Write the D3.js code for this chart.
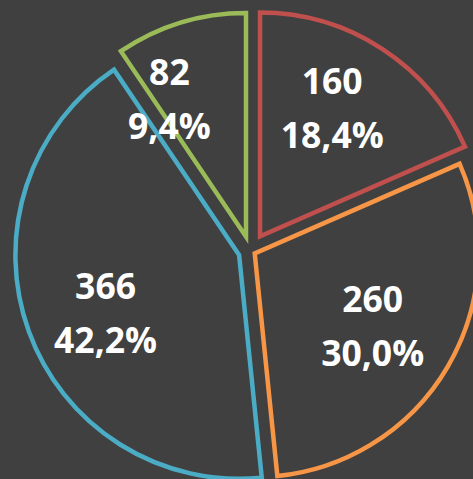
<!DOCTYPE html>
<meta charset="utf-8">
<title>Pie</title>
<style>
body { margin: 0; background-color: #404040; overflow: hidden; }
svg { display: block; background-color: #404040; }
text.lbl { font-family: "Open Sans", Lato, sans-serif; font-weight: bold; font-size: 35.5px; fill: white; }
</style>
<body>
<div id="chart"></div>
<script src="https://d3js.org/d3.v7.min.js"></script>
<script>

// data
const categories = ["A", "B", "C", "D"];
const values = [160, 260, 366, 82];
const pctLabels = ["18,4%", "30,0%", "42,2%", "9,4%"];
const colors = ["#C0504D", "#F79646", "#4BACC6", "#9BBB59"];

// layout
const width = 473, height = 479;
const cx = 250.4, cy = 251, radius = 223.7;
const explode = [17.6, 5, 12, 15];   // px each slice is pulled out
// label placement per slice (excel's best fit moved them a bit)
const labelR = [148, 138, 145, 158];
const labelTurn = [-4, 1, -3, -12];

const svg = d3.select("#chart").append("svg")
    .attr("width", width)
    .attr("height", height);

const pie = d3.pie().sort(null)
    .value(function(d) { return d; });
const arcs = pie(values);

const arc = d3.arc().innerRadius(0).outerRadius(radius);

function dir(a) { return [Math.sin(a), -Math.cos(a)]; }

const g = svg.append("g").attr("transform", "translate(" + cx + "," + cy + ")");

const slice = g.selectAll("g.slice")
  .data(arcs)
  .enter().append("g")
    .attr("class", "slice")
    .attr("transform", function(d, i) {
      const m = dir((d.startAngle + d.endAngle) / 2);
      return "translate(" + (m[0] * explode[i]) + "," + (m[1] * explode[i]) + ")";
    });

slice.append("path")
    .attr("d", arc)
    .attr("fill", "#404040")
    .attr("stroke", function(d, i) { return colors[i]; })
    .attr("stroke-width", 4.5)
    .attr("stroke-linejoin", "miter");

// labels: value + percent
slice.each(function(d, i) {
  const a = (d.startAngle + d.endAngle) / 2 + labelTurn[i] * Math.PI / 180;
  const p = dir(a);
  const x = p[0] * labelR[i], y = p[1] * labelR[i];
  const t = d3.select(this).append("text")
      .attr("class", "lbl")
      .attr("text-anchor", "middle")
      .attr("x", x)
      .attr("y", y);
  t.append("tspan").attr("x", x).attr("dy", -13).text(values[i]);
  t.append("tspan").attr("x", x).attr("dy", 54).text(pctLabels[i]);
});

</script>
</body>
